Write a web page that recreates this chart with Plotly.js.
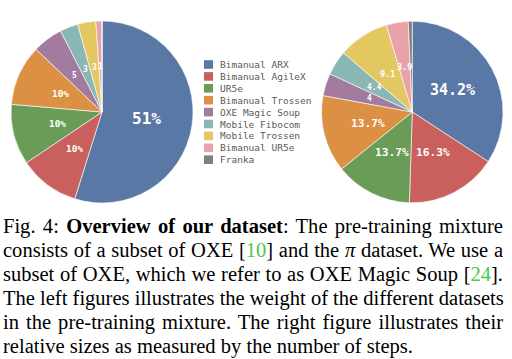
<!DOCTYPE html>
<html><head><meta charset="utf-8">
<script src="https://cdn.plot.ly/plotly-3.0.1.min.js"></script>
<style>
html,body{margin:0;padding:0;background:#fff;width:512px;height:359px;overflow:hidden;}
#chart{position:absolute;left:0;top:0;width:512px;height:210px;}
#cap{position:absolute;left:3px;top:213.5px;width:500px;font-family:"Liberation Serif","Times New Roman",serif;font-size:18.6px;line-height:24px;color:#000;}
#cap div{white-space:nowrap;text-align:justify;text-align-last:justify;height:24px;}
#cap div.last{text-align:left;text-align-last:left;}
.lk{color:#44cc44;}
</style></head><body>
<div id="chart"></div>
<div id="cap">
<div>Fig. 4: <b>Overview of our dataset</b>: The pre-training mixture</div>
<div>consists of a subset of OXE [<span class="lk">10</span>] and the <i>π</i> dataset. We use a</div>
<div>subset of OXE, which we refer to as OXE Magic Soup [<span class="lk">24</span>].</div>
<div>The left figures illustrates the weight of the different datasets</div>
<div>in the pre-training mixture. The right figure illustrates their</div>
<div class="last"><span id="lastline">relative sizes as measured by the number of steps.</span></div>
</div>
<script>
var categories = ["Bimanual ARX","Bimanual AgileX","UR5e","Bimanual Trossen","OXE Magic Soup","Mobile Fibocom","Mobile Trossen","Bimanual UR5e","Franka"];
var colors = ["#5a78a6","#c9605d","#6a9c58","#dc9044","#a27b9f","#8ab6b3","#e3c862","#eaa2a9","#7f7f7f"];
var weightValues = [51,10,10,10,5,3,3,1,0];
var weightLabels = ["51%","10%","10%","10%","5","3","3","1",""];
var sizeValues = [34.2,16.3,13.7,13.7,4,4.4,9.1,3.9,0.7];
var sizeLabels = ["34.2%","16.3%","13.7%","13.7%","4","4.4","9.1","3.9",""];

// fit caption font so the last line matches the reference width (~410px)
(function(){
  var cap=document.getElementById("cap"), s=document.getElementById("lastline");
  var fs=18.6;
  for(var k=0;k<3;k++){
    var w=s.getBoundingClientRect().width;
    if(w>0){fs=Math.max(16,Math.min(21,fs*410/w));cap.style.fontSize=fs+"px";}
  }
})();

var W=512,H=210;
function px(x){return x/W;} function py(y){return 1-y/H;}

var leftSizes=[16,9.4,9.4,9.4,8,8,8,8,6];
var rightSizes=[15,11.2,11.2,11.2,8,8,8.5,8.5,6];

var pies=[
  {values:weightValues,text:weightLabels,sizes:leftSizes,x0:11,x1:193},
  {values:sizeValues,text:sizeLabels,sizes:rightSizes,x0:321.5,x1:503}
];
var y0=21,y1=203;
var traces=[],shapes=[],annotations=[];
pies.forEach(function(p){
  traces.push({type:"pie",sort:false,direction:"clockwise",rotation:0,textinfo:"none",hoverinfo:"none",
    showlegend:false,labels:categories,values:p.values,
    marker:{colors:colors,line:{color:"#ffffff",width:0.6}},
    domain:{x:[px(p.x0),px(p.x1)],y:[py(y1),py(y0)]}});
  // slice labels at half radius along each slice's mid-angle
  var total=p.values.reduce(function(a,b){return a+b;},0);
  var cx=(p.x0+p.x1)/2, cy=(y0+y1)/2, r=Math.min(p.x1-p.x0,y1-y0)/2;
  var cum=0;
  for(var i=0;i<p.values.length;i++){
    var th=2*Math.PI*(cum+p.values[i]/2)/total; cum+=p.values[i];
    if(!p.text[i]) continue;
    annotations.push({xref:"paper",yref:"paper",x:px(cx+0.5*r*Math.sin(th)),y:py(cy-0.5*r*Math.cos(th)),
      xanchor:"center",yanchor:"middle",showarrow:false,text:"<b>"+p.text[i]+"</b>",
      font:{family:"DejaVu Sans Mono",size:p.sizes[i],color:"#ffffff"}});
  }
});

for(var i=0;i<categories.length;i++){
  var ly=64.5+i*11.9;
  shapes.push({type:"rect",xref:"paper",yref:"paper",x0:px(204),x1:px(213),y0:py(ly+4.3),y1:py(ly-4.3),
    fillcolor:colors[i],line:{width:0}});
  annotations.push({xref:"paper",yref:"paper",x:px(218),y:py(ly),xanchor:"left",yanchor:"middle",
    text:categories[i],showarrow:false,font:{family:"DejaVu Sans Mono",size:9.5,color:"#5a5a5a"}});
}
Plotly.newPlot("chart",traces,{width:W,height:H,margin:{l:0,r:0,t:0,b:0},paper_bgcolor:"#fff",
  shapes:shapes,annotations:annotations},{staticPlot:true});
</script></body></html>
